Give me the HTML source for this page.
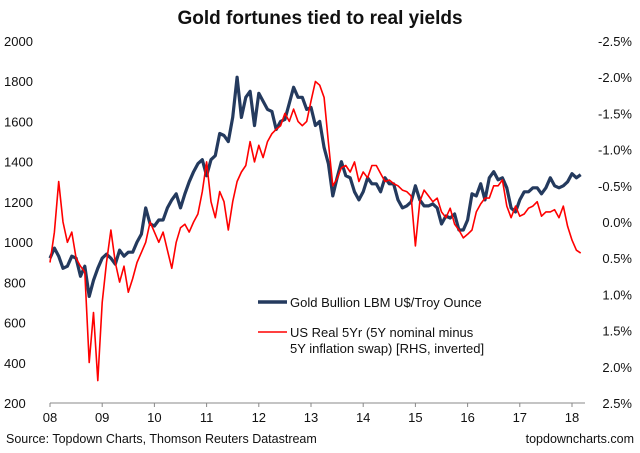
<!DOCTYPE html>
<html><head><meta charset="utf-8"><style>
body{margin:0;background:#fff;}
svg{display:block;font-family:"Liberation Sans",Arial,sans-serif;}
</style></head><body>
<svg id="c" width="640" height="453">
<text x="320" y="24" text-anchor="middle" font-size="19" font-weight="bold" fill="#111">Gold fortunes tied to real yields</text>
<g id="axes"></g>
<g id="series"></g>
<g>
<line x1="258" y1="302" x2="287" y2="302" stroke="#243a5e" stroke-width="3.5"/>
<text x="290" y="307" font-size="13" fill="#111">Gold Bullion LBM U$/Troy Ounce</text>
<line x1="258" y1="332" x2="287" y2="332" stroke="#ff0000" stroke-width="1.6"/>
<text x="290" y="337" font-size="13" fill="#111">US Real 5Yr (5Y nominal minus</text>
<text x="290" y="353" font-size="13" fill="#111">5Y inflation swap) [RHS, inverted]</text>
</g>
<text x="6" y="443" font-size="12.5" fill="#111">Source: Topdown Charts, Thomson Reuters Datastream</text>
<text x="634" y="443" text-anchor="end" font-size="12.5" fill="#111">topdowncharts.com</text>
</svg>
<script>
const years = ["08","09","10","11","12","13","14","15","16","17","18"];
const leftTicks = [200,400,600,800,1000,1200,1400,1600,1800,2000];
const rightTicks = [-2.5,-2.0,-1.5,-1.0,-0.5,0.0,0.5,1.0,1.5,2.0,2.5];
const gold = [920,970,930,870,880,930,920,830,880,730,810,870,
920,940,920,890,960,930,950,950,1000,1040,1170,1090,
1080,1110,1110,1170,1210,1240,1170,1240,1300,1350,1390,1410,
1330,1410,1430,1540,1530,1500,1620,1820,1620,1720,1750,1580,
1740,1700,1660,1650,1560,1600,1610,1690,1770,1720,1720,1660,
1670,1580,1600,1470,1390,1230,1320,1400,1330,1320,1250,1210,
1250,1320,1290,1290,1250,1320,1290,1290,1210,1170,1180,1200,
1280,1210,1180,1180,1190,1170,1090,1130,1120,1140,1060,1060,
1110,1240,1230,1290,1210,1320,1350,1310,1320,1270,1170,1150,
1210,1250,1250,1270,1270,1240,1270,1320,1280,1270,1280,1300,
1340,1320,1335];
const realYield = [0.56,0.14,-0.56,0.0,0.28,0.14,0.5,0.61,0.69,1.94,1.25,2.19,
1.11,0.56,0.11,0.56,0.83,0.61,0.97,0.78,0.56,0.42,0.28,0.0,
0.14,0.28,0.14,0.39,0.64,0.28,0.08,0.03,0.14,0.0,-0.11,-0.42,
-0.83,-0.28,-0.06,-0.42,-0.28,0.11,-0.28,-0.56,-0.69,-0.78,-1.11,-0.83,
-1.06,-0.89,-1.11,-1.22,-1.28,-1.33,-1.5,-1.39,-1.56,-1.39,-1.33,-1.39,
-1.67,-1.94,-1.89,-1.72,-1.1,-0.5,-0.6,-0.75,-0.78,-0.69,-0.83,-0.56,
-0.69,-0.61,-0.78,-0.78,-0.67,-0.56,-0.58,-0.53,-0.5,-0.44,-0.42,-0.36,
0.33,-0.28,-0.44,-0.36,-0.28,-0.33,-0.14,-0.06,-0.19,0.03,0.11,0.22,
0.17,0.11,-0.14,-0.25,-0.33,-0.33,-0.5,-0.5,-0.58,-0.22,-0.06,-0.22,
-0.08,-0.11,-0.19,-0.22,-0.28,-0.08,-0.14,-0.14,-0.17,-0.06,-0.22,0.06,
0.25,0.39,0.43];

const NS="http://www.w3.org/2000/svg";
const X0=50, YW=52.2, YT=41, YB=403;
const xm = i => X0 + (i/12)*YW;
const yL = v => YB - (v-200)/1800*(YB-YT);
const yR = v => YT + (v+2.5)/5*(YB-YT);
function mk(tag, attrs, parent){const e=document.createElementNS(NS,tag);for(const k in attrs)e.setAttribute(k,attrs[k]);parent.appendChild(e);return e;}
const axes=document.getElementById('axes'), ser=document.getElementById('series');
let ax=mk('line',{x1:X0,y1:YB,x2:585,y2:YB,stroke:'#888','stroke-width':1},axes);


years.forEach((y,i)=>{
  const x=X0+i*YW;
  const t=mk('line',{x1:x,y1:YB,x2:x,y2:YB+4,stroke:'#888'},axes);
  
  
  const l=mk('text',{x:x,y:YB+19,'text-anchor':'middle','font-size':13,fill:'#111'},axes);
  l.textContent=y;
  
  
});
leftTicks.forEach(v=>{
  const l=mk('text',{x:4,y:yL(v)+5,'font-size':13,fill:'#111'},axes);
  l.textContent=v;
  
  
});
rightTicks.forEach(v=>{
  const l=mk('text',{x:632,y:yR(v)+5,'text-anchor':'end','font-size':13,fill:'#111'},axes);
  l.textContent=v.toFixed(1)+'%';
  
  
});
const gp=mk('polyline',{points:gold.map((v,i)=>xm(i).toFixed(1)+','+yL(v).toFixed(1)).join(' '),fill:'none',stroke:'#243a5e','stroke-width':3.2,'stroke-linejoin':'round'},ser);


const rp=mk('polyline',{points:realYield.map((v,i)=>xm(i).toFixed(1)+','+yR(v).toFixed(1)).join(' '),fill:'none',stroke:'#ff0000','stroke-width':1.6,'stroke-linejoin':'round'},ser);


</script>
</body></html>
